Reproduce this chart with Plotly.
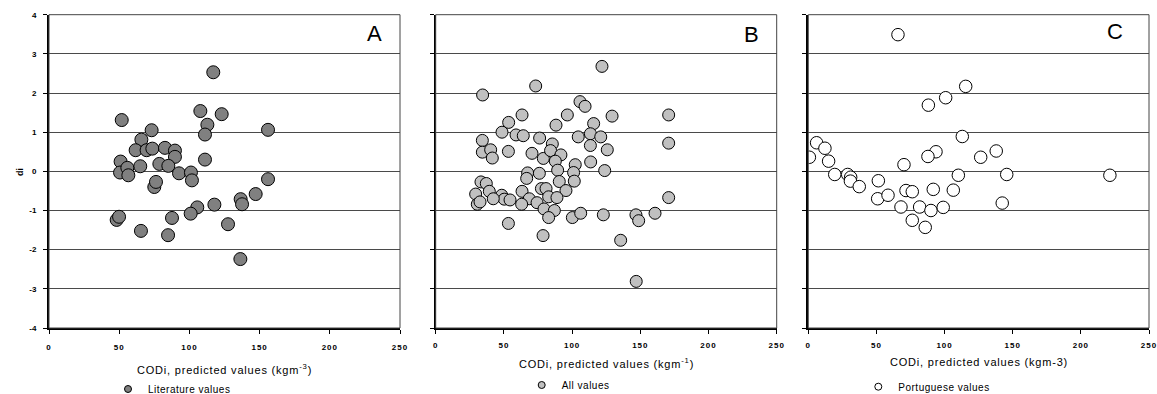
import plotly.graph_objects as go

# ---------------- data ----------------
lit_x = [117.0, 51.8, 107.8, 123.0, 112.8, 111.1, 156.0, 73.1, 65.8, 61.7, 69.5, 73.6, 82.6,
         89.7, 89.7, 111.1, 51.0, 65.0, 78.6, 85.0, 50.6, 55.8, 56.5, 92.6, 101.1, 101.8, 75.0,
         76.2, 156.0, 147.2, 136.5, 137.5, 117.8, 105.6, 100.9, 48.2, 49.9, 87.6, 127.5, 65.5,
         84.8, 136.3]
lit_y = [2.53, 1.31, 1.54, 1.46, 1.19, 0.94, 1.06, 1.05, 0.81, 0.54, 0.54, 0.58, 0.60,
         0.53, 0.37, 0.30, 0.25, 0.13, 0.19, 0.14, -0.03, 0.09, -0.10, -0.05, -0.03, -0.23, -0.40,
         -0.27, -0.20, -0.58, -0.71, -0.84, -0.85, -0.92, -1.08, -1.24, -1.16, -1.19, -1.35, -1.52,
         -1.63, -2.24]

all_x = [121.9, 73.3, 34.4, 105.8, 109.5, 63.3, 96.5, 129.3, 170.8, 53.5, 88.2, 115.8, 48.6,
         58.9, 64.2, 104.5, 113.4, 121.0, 34.2, 76.2, 85.5, 113.4, 170.8, 34.2, 40.3, 41.5, 53.3,
         70.6, 78.9, 84.2, 91.8, 87.7, 125.8, 102.3, 113.6, 89.4, 101.1, 123.9, 67.4, 76.0, 66.7,
         90.6, 101.6, 33.2, 37.1, 77.5, 80.9, 95.5, 63.3, 39.3, 29.3, 48.4, 50.3, 42.2, 54.5, 68.6,
         82.8, 88.9, 63.0, 74.3, 30.5, 32.5, 79.4, 87.0, 82.8, 100.2, 106.3, 122.9, 146.8, 148.8,
         160.8, 170.8, 53.3, 78.7, 135.6, 147.0]
all_y = [2.68, 2.18, 1.95, 1.78, 1.66, 1.44, 1.44, 1.41, 1.44, 1.25, 1.18, 1.22, 1.00,
         0.93, 0.91, 0.88, 0.96, 0.88, 0.79, 0.85, 0.70, 0.66, 0.72, 0.49, 0.55, 0.34, 0.51,
         0.46, 0.33, 0.53, 0.42, 0.26, 0.55, 0.17, 0.24, 0.03, -0.03, 0.02, -0.04, -0.05, -0.18,
         -0.26, -0.25, -0.27, -0.31, -0.44, -0.44, -0.49, -0.51, -0.51, -0.58, -0.61, -0.71, -0.70,
         -0.73, -0.70, -0.65, -0.67, -0.84, -0.80, -0.84, -0.78, -0.96, -1.00, -1.18, -1.18, -1.07,
         -1.11, -1.11, -1.26, -1.07, -0.67, -1.33, -1.64, -1.76, -2.81]

por_x = [65.8, 115.5, 100.8, 88.1, 113.0, 6.1, 12.2, 0.8, 14.9, 93.7, 87.8, 126.5, 137.9,
         70.2, 19.4, 28.9, 31.1, 30.9, 37.4, 110.1, 145.6, 221.3, 51.4, 50.9, 58.5, 71.7, 76.3,
         91.7, 106.4, 68.0, 81.7, 90.0, 99.0, 142.3, 76.3, 85.8]
por_y = [3.49, 2.17, 1.88, 1.69, 0.89, 0.73, 0.59, 0.36, 0.26, 0.50, 0.38, 0.36, 0.52,
         0.17, -0.08, -0.08, -0.15, -0.25, -0.39, -0.10, -0.08, -0.10, -0.24, -0.70, -0.61, -0.49,
         -0.52, -0.46, -0.48, -0.91, -0.91, -1.00, -0.92, -0.81, -1.25, -1.43]

x_tick_vals = [0, 50, 100, 150, 200, 250]
x_tick_text = ["0", "50", "100", "150", "200", "250"]
y_tick_vals = [-4, -3, -2, -1, 0, 1, 2, 3, 4]
y_tick_text = ["-4", "-3", "-2", "-1", "0", "1", "2", "3", "4"]

panel_letters = ["A", "B", "C"]
series_names = ["Literature values", "All values", "Portuguese values"]
x_titles = ["CODi, predicted values (kgm<sup>-3</sup>)",
            "CODi, predicted values (kgm<sup>-1</sup>)",
            "CODi, predicted values (kgm-3)"]
y_title = "di"

# ---------------- layout helpers ----------------
W, H = 1157, 394
FONT = "Liberation Sans, Arial, sans-serif"


def px_x(p):
    return p / W


def px_y(p):
    return 1 - p / H


def spaced(t, ls):
    return '<span style="letter-spacing:%spx">%s</span>' % (ls, t)


domains_x = [(49, 400), (435.7, 776.7), (808.3, 1149)]
dom_y = [px_y(328), px_y(14.7)]
fills = ["#808080", "#c0c0c0", "#ffffff"]
sizes = [13, 12, 12.5]
xs = [lit_x, all_x, por_x]
ys = [lit_y, all_y, por_y]
xtick_standoff = [7, 5, 5]
title_y = [369, 362.5, 362]
legend_pos = [(134, 389), (547.7, 385), (884.3, 386.7)]
letter_pos = [(374, 33.5), (751.5, 34.5), (1115, 31.5)]

fig = go.Figure()
layout = dict(
    width=W, height=H,
    margin=dict(l=0, r=0, t=0, b=0, autoexpand=False),
    paper_bgcolor="white", plot_bgcolor="white",
    font=dict(family=FONT, color="black"),
    showlegend=True,
    annotations=[], shapes=[],
)

for i in range(3):
    sfx = "" if i == 0 else str(i + 1)
    xa, ya = "x" + sfx, "y" + sfx
    fig.add_trace(go.Scatter(
        x=xs[i], y=ys[i], mode="markers", xaxis=xa, yaxis=ya,
        marker=dict(size=sizes[i], color=fills[i], line=dict(color="black", width=1)),
        showlegend=False, hoverinfo="x+y"))
    # legend-only entry with small marker
    lg = "legend" + sfx
    fig.add_trace(go.Scatter(
        x=[None], y=[None], mode="markers", xaxis=xa, yaxis=ya,
        marker=dict(size=7, color=fills[i], line=dict(color="black", width=1)),
        name=spaced(series_names[i], 0.5), legend=lg, showlegend=True))
    lx, ly = legend_pos[i]
    layout["legend" + sfx] = dict(
        x=px_x(lx - 26), y=px_y(ly), xanchor="left", yanchor="middle",
        bgcolor="rgba(0,0,0,0)", borderwidth=0, itemwidth=30,
        font=dict(size=10, family=FONT, color="black"))

    d0, d1 = domains_x[i]
    layout["xaxis" + sfx] = dict(
        domain=[px_x(d0), px_x(d1)], range=[0, 250], anchor=ya,
        tickmode="array", tickvals=x_tick_vals,
        ticktext=[spaced(t, 1) for t in x_tick_text],
        ticks="outside", ticklen=4, tickcolor="black", tickwidth=1,
        ticklabelstandoff=xtick_standoff[i], ticklabeloverflow="allow",
        tickfont=dict(size=8, family=FONT, color="black", weight="bold"),
        showline=True, linecolor="black", linewidth=1.5,
        showgrid=False, zeroline=False, fixedrange=True)
    layout["yaxis" + sfx] = dict(
        domain=dom_y, range=[-4, 4], anchor=xa,
        tickmode="array", tickvals=y_tick_vals, ticktext=y_tick_text,
        ticks="outside", ticklen=4, tickcolor="black", tickwidth=1,
        showticklabels=(i == 0), ticklabelstandoff=5, ticklabeloverflow="allow",
        tickfont=dict(size=8, family=FONT, color="black", weight="bold"),
        showline=True, linecolor="black", linewidth=2,
        showgrid=True, gridcolor="#4a4a4a", gridwidth=1,
        zeroline=False, fixedrange=True)
    # frame (top / right)
    layout["shapes"].append(dict(
        type="rect", xref=xa + " domain", yref=ya + " domain",
        x0=0, x1=1, y0=0, y1=1, line=dict(color="#444444", width=1), layer="above"))
    # axis title
    layout["annotations"].append(dict(
        text=spaced(x_titles[i], 0.8), xref="paper", yref="paper",
        x=px_x((d0 + d1) / 2), y=px_y(title_y[i]), xanchor="center", yanchor="middle",
        showarrow=False, font=dict(size=11, family=FONT, color="black")))
    # panel letter
    tx, ty = letter_pos[i]
    layout["annotations"].append(dict(
        text=panel_letters[i], xref="paper", yref="paper",
        x=px_x(tx), y=px_y(ty), xanchor="center", yanchor="middle",
        showarrow=False, font=dict(size=22, family=FONT, color="black")))

layout["annotations"].append(dict(
    text=y_title, xref="paper", yref="paper", x=px_x(20), y=px_y(172),
    xanchor="center", yanchor="middle", textangle=-90, showarrow=False,
    font=dict(size=9, family=FONT, color="black", weight="bold")))

fig.update_layout(**layout)
fig.write_html("out.html")
